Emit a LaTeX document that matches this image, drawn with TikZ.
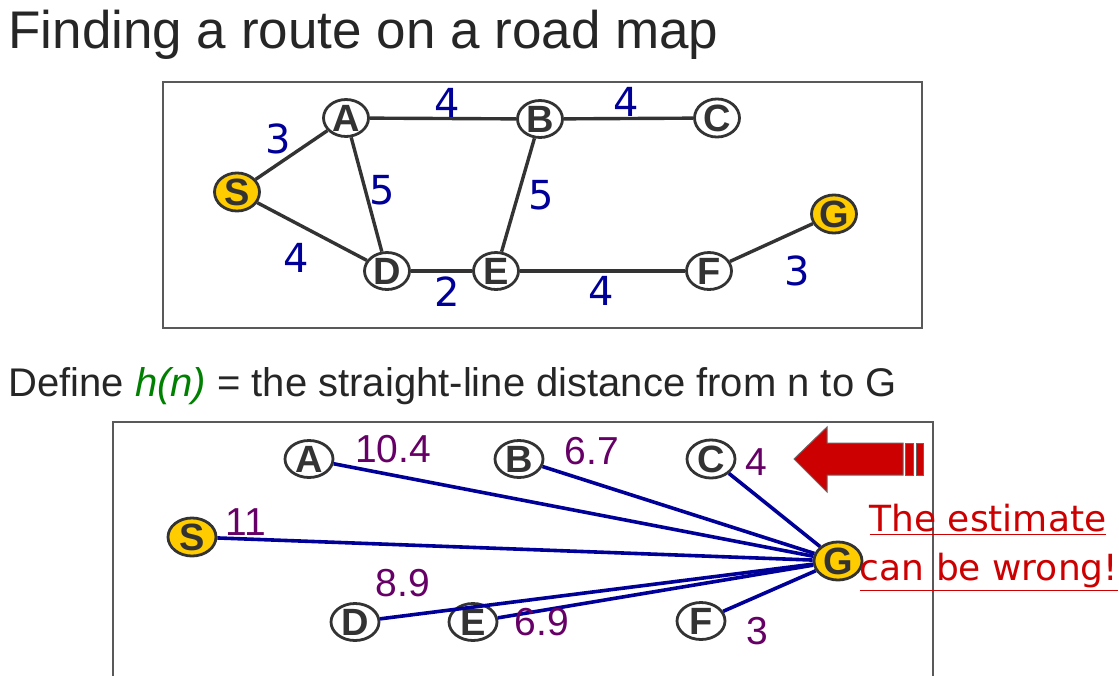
\documentclass[tikz,border=0pt]{standalone}
\usepackage{fontspec}
\setmainfont{Liberation Sans}
\newfontfamily\numfont{DejaVu Sans}
\usetikzlibrary{shapes.geometric}
\definecolor{roadgray}{HTML}{333333}
\definecolor{gold}{HTML}{FFCC00}
\definecolor{kmblue}{HTML}{000099}
\definecolor{hpurple}{HTML}{660066}
\definecolor{alarmred}{HTML}{CC0000}
\definecolor{hgreen}{HTML}{008000}
\begin{document}
\begin{tikzpicture}[x=0.5pt,y=-0.5pt,
		town/.style={ellipse,draw=roadgray,line width=1.4pt,fill=white,inner sep=0pt,
			minimum width=22.5pt,minimum height=17.5pt,text=roadgray,
			font=\bfseries\fontsize{19}{19}\selectfont},
		goal/.style={town,fill=gold},
		road/.style={roadgray,line width=1.7pt},
		km/.style={text=kmblue,inner sep=0pt,font=\numfont\fontsize{20}{20}\selectfont},
		crow/.style={kmblue,line width=1.8pt},
		hval/.style={text=hpurple,inner sep=0pt,font=\fontsize{19.5}{19.5}\selectfont},
		frame/.style={draw=black!65,line width=0.6pt}]
	\useasboundingbox (0,0) rectangle (1119,675);
	% title and text lines
	\node[anchor=base west,inner sep=0pt,text=black!85,font=\fontsize{26.5}{26.5}\selectfont] (title) at (8,48) {Finding a route on a road map};
	\node[anchor=base west,inner sep=0pt,text=black!85,font=\fontsize{20}{20}\selectfont] (define) at (8,396)
		{Define \textcolor{hgreen}{\itshape h(n)} = the straight-line distance from n to G};
	% road map
	\draw[frame] (163,82) rectangle (922,328);
	\foreach \n/\x/\y in {A/346/118,B/540/119,C/717/118,D/387/271,E/496/271,F/709/271}{
		\node[town] (t\n) at (\x,\y) {\n};
	}
	\node[goal] (tS) at (237,192) {S};
	\node[goal] (tG) at (834,214) {G};
	\foreach \a/\b in {S/A,A/B,B/C,S/D,A/D,D/E,B/E,E/F,F/G}{
		\draw[road] (t\a) -- (t\b);
	}
	\foreach \n/\x/\y/\w in {sa/278/139/3,ab/447/103/4,bc/626/102/4,ad/382/190/5,be/541/195/5,
		sd/296/258/4,de/447/292/2,ef/601/291/4,fg/797/271/3}{
		\node[km] (k\n) at (\x,\y) {\w};
	}
	% straight-line distances
	\draw[frame] (113,680) -- (113,422) -- (933,422) -- (933,680);
	\foreach \n/\x/\y in {A/309/459,B/519/459,C/711/459,D/355/622,E/473/622,F/701/621}{
		\node[town,minimum width=24pt,minimum height=18.5pt] (b\n) at (\x,\y) {\n};
	}
	\node[goal,minimum width=24pt,minimum height=18.5pt] (bS) at (192,537) {S};
	\node[goal,minimum width=24pt,minimum height=18.5pt] (bG) at (838,561) {G};
	\foreach \n in {A,B,C,S,D,E,F}{
		\draw[crow] (b\n) -- (bG);
	}
	\foreach \n/\x/\y/\w in {A/393/449/10.4,B/592/451/6.7,C/756/462/4,S/246/522/11,
		D/403/583/8.9,E/542/622/6.9,F/757/631/3}{
		\node[hval] (h\n) at (\x,\y) {\w};
	}
	% warning arrow
	\draw[fill=alarmred,draw=black!60,line width=0.5pt] (794,459) -- (827,427) -- (827,443) -- (903,443)
		-- (903,475) -- (827,475) -- (827,492) -- cycle;
	\draw[fill=alarmred,draw=black!60,line width=0.5pt] (905,443) rectangle (913,475);
	\draw[fill=alarmred,draw=black!60,line width=0.5pt] (916,443) rectangle (923,475);
	\node[anchor=base,inner sep=0pt,text=alarmred,font=\numfont\fontsize{18}{18}\selectfont] (warn1) at (988,531) {\underline{The estimate}};
	\node[anchor=base,inner sep=0pt,text=alarmred,font=\numfont\fontsize{18}{18}\selectfont] (warn2) at (989,580) {\underline{can be wrong!}};
\end{tikzpicture}
\end{document}
